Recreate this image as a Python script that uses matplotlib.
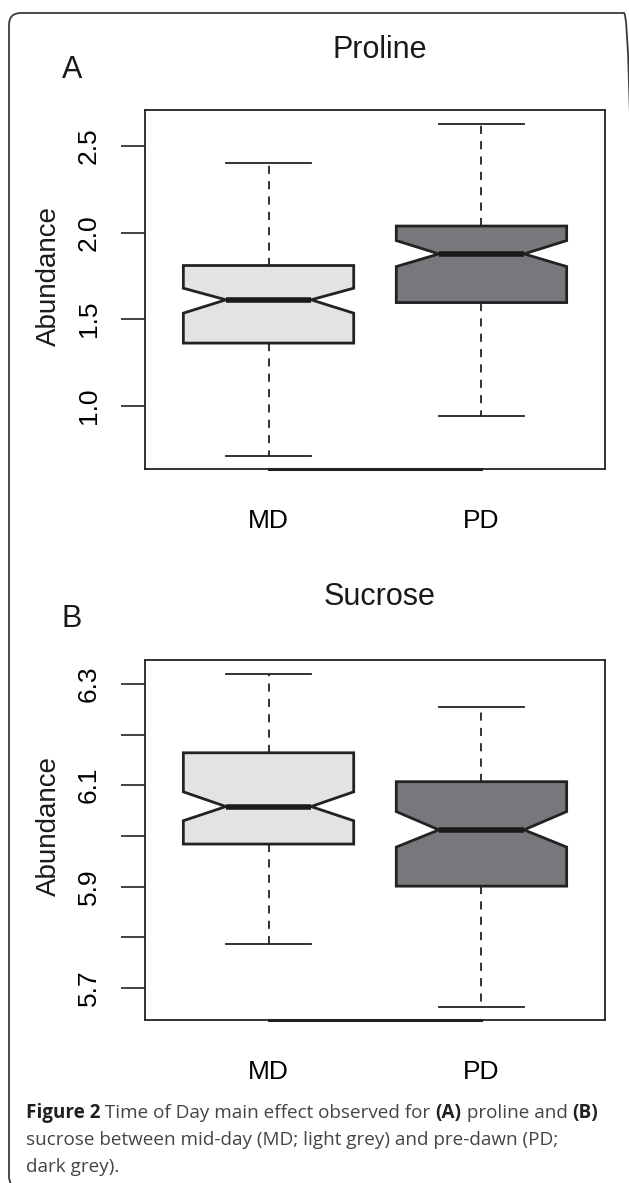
import matplotlib
matplotlib.use("Agg")
import matplotlib.pyplot as plt
from matplotlib.patches import FancyBboxPatch

# ---- data ----
groups = ["MD", "PD"]

# Proline: whisker low, Q1, median, Q3, whisker high, notch low, notch high
proline_whislo = [0.712, 0.942]
proline_q1 = [1.362, 1.596]
proline_med = [1.612, 1.877]
proline_q3 = [1.810, 2.038]
proline_whishi = [2.400, 2.627]
proline_cilo = [1.535, 1.804]
proline_cihi = [1.679, 1.954]

sucrose_whislo = [5.786, 5.663]
sucrose_q1 = [5.984, 5.901]
sucrose_med = [6.058, 6.012]
sucrose_q3 = [6.164, 6.107]
sucrose_whishi = [6.319, 6.255]
sucrose_cilo = [6.030, 5.978]
sucrose_cihi = [6.087, 6.048]

proline_ticks = [1.0, 1.5, 2.0, 2.5]
proline_ticklabels = ["1.0", "1.5", "2.0", "2.5"]
sucrose_ticks = [5.7, 5.8, 5.9, 6.0, 6.1, 6.2, 6.3]
sucrose_ticklabels = ["5.7", "", "5.9", "", "6.1", "", "6.3"]

box_colors = ["#e2e3e5", "#77787c"]

W, H = 629, 1183
plt.rcParams['font.family'] = ['Liberation Sans', 'DejaVu Sans']

fig = plt.figure(figsize=(W / 100, H / 100), dpi=100)


def fx(px):
    return px / W


def fy(py):
    return 1 - py / H


def make_stats(lo, q1, med, q3, hi, cilo, cihi):
    out = []
    for i in range(len(lo)):
        out.append(dict(whislo=lo[i], q1=q1[i], med=med[i], q3=q3[i], whishi=hi[i],
                        cilo=cilo[i], cihi=cihi[i], fliers=[]))
    return out


def draw_panel(rect, stats, ylim, ticks, ticklabels, title, letter, title_base, letter_base, ylab_center):
    ax = fig.add_axes(rect)
    parts = ax.bxp(stats, positions=[1, 2], widths=0.8, shownotches=True, patch_artist=True,
                   showfliers=False,
                   boxprops=dict(edgecolor="#222222", linewidth=2.0),
                   whiskerprops=dict(color="#222222", linewidth=1.3, linestyle=(0, (4.5, 4))),
                   capprops=dict(color="#222222", linewidth=1.3),
                   medianprops=dict(color="#1a1a1a", linewidth=4.0, solid_capstyle="butt"))
    for patch, c in zip(parts["boxes"], box_colors):
        patch.set_facecolor(c)
    ax.set_xlim(0.42, 2.58)
    ax.set_ylim(*ylim)
    ax.set_yticks(ticks)
    ax.set_yticklabels(ticklabels, rotation=90, va="center", ha="right")
    ax.tick_params(axis="y", length=17, width=1.2, pad=15, labelsize=19, color="#222222")
    ax.set_xticks([1, 2])
    ax.set_xticklabels(groups)
    ax.tick_params(axis="x", length=0, pad=29, labelsize=19)
    for sp in ax.spines.values():
        sp.set_linewidth(1.3)
        sp.set_color("#222222")
    # R draws the axis line between the outer ticks
    ax.plot([1, 2], [ylim[0], ylim[0]], color="#222222", linewidth=2.2, clip_on=False)
    fig.text(fx(380), fy(title_base), title, ha="center", va="baseline", fontsize=22, color="#1a1a1a")
    fig.text(fx(62), fy(letter_base), letter, ha="left", va="baseline", fontsize=22, color="#1a1a1a")
    fig.text(fx(49), fy(ylab_center), "Abundance", rotation=90, ha="center", va="center",
             fontsize=20, color="#1a1a1a")
    return ax


draw_panel([fx(145), fy(469), fx(605) - fx(145), fy(110) - fy(469)],
           make_stats(proline_whislo, proline_q1, proline_med, proline_q3, proline_whishi,
                      proline_cilo, proline_cihi),
           (0.635, 2.708), proline_ticks, proline_ticklabels, "Proline", "A", 58, 78, 276.5)

draw_panel([fx(145), fy(1020), fx(605) - fx(145), fy(660) - fy(1020)],
           make_stats(sucrose_whislo, sucrose_q1, sucrose_med, sucrose_q3, sucrose_whishi,
                      sucrose_cilo, sucrose_cihi),
           (5.637, 6.347), sucrose_ticks, sucrose_ticklabels, "Sucrose", "B", 605, 627, 826.5)

# rounded frame around the whole figure (right and bottom edges fall just outside)
frame = FancyBboxPatch((9, H - 1188), 627, 1175, boxstyle="round,pad=0,rounding_size=12",
                       transform=None, facecolor="none", edgecolor="#3a3a3a", linewidth=1.3)
fig.patches.append(frame)

# caption with bold parts
cap_font = ['Open Sans', 'DejaVu Sans']
cap_size = 13.6
caption_lines = [
    [("Figure 2", True), (" Time of Day main effect observed for ", False), ("(A)", True),
     (" proline and ", False), ("(B)", True)],
    [("sucrose between mid-day (MD; light grey) and pre-dawn (PD;", False)],
    [("dark grey).", False)],
]
caption_baselines = [1118, 1145, 1172]

renderer = fig.canvas.get_renderer()
for segs, base in zip(caption_lines, caption_baselines):
    x = 26
    for s, bold in segs:
        t = fig.text(fx(x), fy(base), s, ha="left", va="baseline", fontsize=cap_size,
                     family=cap_font, fontweight="bold" if bold else "normal",
                     color="#231f20" if bold else "#444444")
        bb = t.get_window_extent(renderer=renderer)
        x += bb.width

fig.savefig("out.png", dpi=100)
